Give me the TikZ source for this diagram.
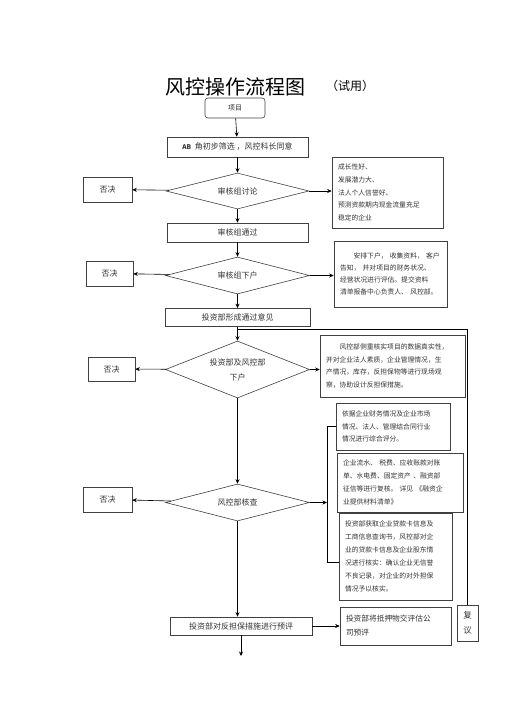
\documentclass[tikz,border=0pt]{standalone}
\usepackage{fontspec}
\setmainfont{Noto Sans CJK SC}
\usetikzlibrary{shapes.geometric,arrows.meta}

\tikzset{
  box/.style={draw=black!75,line width=0.6pt,inner sep=0pt,text=black!80,
    font=\fontsize{8}{10}\selectfont},
  decide/.style={diamond,draw=black!75,line width=0.6pt,inner sep=0pt,aspect=3,
    text=black!80,align=center,font=\fontsize{8}{15}\selectfont},
  sidebox/.style={draw=black!75,line width=0.6pt,inner xsep=6pt,inner ysep=0pt,
    align=left,text=black!80,font=\fontsize{6.8}{12.6}\selectfont},
  link/.style={line width=0.6pt,-{Stealth[length=4.5pt,width=4pt]}},
  plain/.style={line width=0.6pt}
}

\begin{document}
\begin{tikzpicture}[x=1pt,y=1pt]
\useasboundingbox (0,0) rectangle (505,-714);
% title
\node[font=\fontsize{20}{22}\selectfont] (title) at (235,-87) {风控操作流程图};
\node[font=\fontsize{12}{14}\selectfont] (trial) at (350,-86) {（试用）};
% main column
\node[box,rounded corners=3pt,minimum width=60,minimum height=20,font=\fontsize{7}{9}\selectfont] (item) at (235,-108) {项目};
\node[box,minimum width=141,minimum height=20] (ab) at (237.5,-147) {{\bfseries\fontsize{6.5}{8}\selectfont AB}\ \ 角初步筛选 ，风控科长同意};
\node[decide,minimum width=143,minimum height=36] (d1) at (237.5,-191) {审核组讨论};
\node[box,minimum width=141,minimum height=19] (pass) at (237.5,-232.5) {审核组通过};
\node[decide,minimum width=144,minimum height=37] (d2) at (237.5,-275.5) {审核组下户};
\node[box,minimum width=145,minimum height=18] (form) at (237.5,-317.5) {投资部形成通过意见};
\node[decide,minimum width=144,minimum height=57] (d3) at (237.5,-369.5) {投资部及风控部\\下户};
\node[decide,minimum width=144,minimum height=37] (d4) at (237.5,-502.5) {风控部核查};
\node[box,minimum width=142,minimum height=18] (pre) at (241,-626) {投资部对反担保措施进行预评};
% rejections
\node[box,minimum width=49,minimum height=25] (no1) at (107.5,-189.5) {否决};
\node[box,minimum width=47,minimum height=25] (no2) at (109.5,-273.5) {否决};
\node[box,minimum width=47,minimum height=24] (no3) at (111.5,-369) {否决};
\node[box,minimum width=49,minimum height=25] (no4) at (107.5,-499.5) {否决};
% notes on the right
\node[sidebox,text width=99,minimum height=71] (r1) at (387.5,-192.5)
  {成长性好、\\发展潜力大、\\法人个人信誉好、\\预测资款期内现金流量充足\\稳定的企业};
\node[sidebox,text width=101,minimum height=66,font=\fontsize{6.8}{12}\selectfont] (r2) at (390.5,-274)
  {\hspace*{2em}安排下户， 收集资料， 客户\\告知， 并对项目的财务状况、\\经营状况进行评估。提交资料\\清单报备中心负责人、 风控部。};
\node[sidebox,text width=133,minimum height=62,font=\fontsize{6.8}{12.5}\selectfont] (r3) at (392.5,-366)
  {\hspace*{2em}风控部侧重核实项目的数据真实性，\\并对企业法人素质，企业管理情况，生\\产情况，库存，反担保物等进行现场观\\察，协助设计反担保措施。};
\node[sidebox,text width=102,minimum height=47,font=\fontsize{6.8}{12.5}\selectfont] (rA) at (393,-426.5)
  {依据企业财务情况及企业市场\\情况、法人、管理结合同行业\\情况进行综合评分。};
\node[sidebox,text width=114,minimum height=59,font=\fontsize{6.8}{13}\selectfont] (rB) at (400,-482.5)
  {企业流水、 税费、应收账款对账\\单、水电费、固定资产 、融资部\\征信等进行复核。 详见 《融资企\\业提供材料清单》};
\node[sidebox,text width=101,minimum height=87,font=\fontsize{6.8}{13}\selectfont] (rC) at (395.5,-556.5)
  {投资部获取企业贷款卡信息及\\工商信息查询书，风控部对企\\业的贷款卡信息及企业股东情\\况进行核实：确认企业无信誉\\不良记录，对企业的对外担保\\情况予以核实。};
\node[sidebox,text width=99,minimum height=38,font=\fontsize{7.7}{14}\selectfont] (eval) at (395.5,-626)
  {投资部将抵押物交评估公\\司预评};
\node[box,minimum width=21,minimum height=36,align=center,font=\fontsize{8.5}{15}\selectfont] (again) at (467.5,-623) {复\\议};
% helper points
\coordinate (brk) at (327,-502.5);
\coordinate (brkend) at (327,-562);
\coordinate (back) at (237.5,-329);
\coordinate (out) at (241,-656);
% connectors
\draw[link] (item) -- (ab);
\draw[link] (ab) -- (d1);
\draw[link] (d1) -- (no1);
\draw[link] (d1) -- (r1.west |- d1);
\draw[link] (d1) -- (pass);
\draw[link] (pass) -- (d2);
\draw[link] (d2) -- (no2);
\draw[link] (d2) -- (r2.west |- d2);
\draw[link] (d2) -- (form);
\draw[link] (form) -- (d3);
\draw[link] (d3) -- (no3);
\draw[link] (d3.east) -- (r3.west |- d3);
\draw[link] (d3) -- (d4);
\draw[link] (d4) -- (no4);
\draw[link] (d4.east) -- (brk);
\draw[plain] (rA.west) -| (brkend) -- (brkend -| rC.west);
\draw[link] (d4.south) -- (d4.south |- pre.north);
\draw[link] (pre) -- (eval);
\draw[link] (pre.south -| out) -- (out);
\draw[plain] (again.north) |- (back);
\end{tikzpicture}
\end{document}
